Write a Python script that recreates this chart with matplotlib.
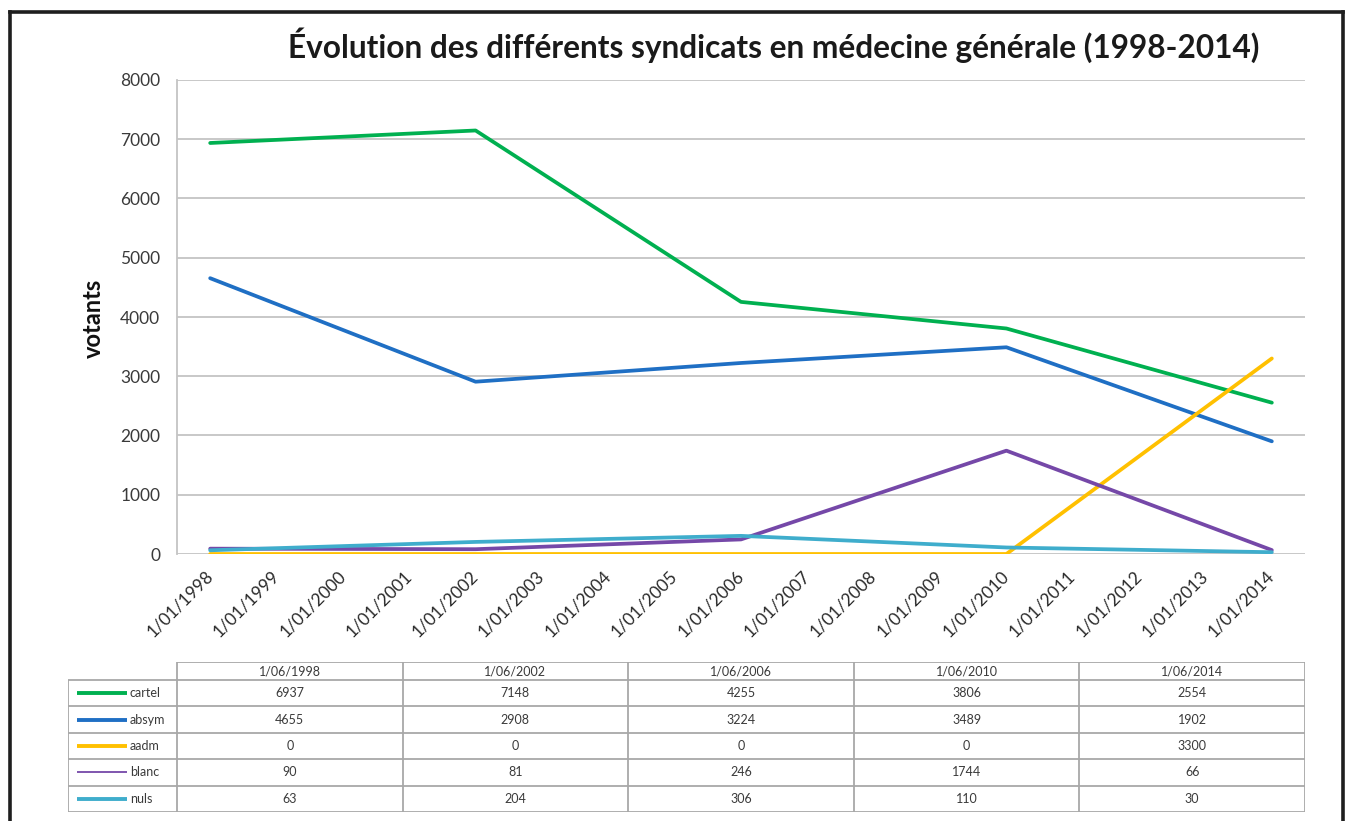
import matplotlib
matplotlib.use("Agg")
import matplotlib.pyplot as plt
import numpy as np

plt.rcParams['font.family'] = ['Lato', 'DejaVu Sans']

# ---------------- data ----------------
title = "Évolution des différents syndicats en médecine générale (1998-2014)"
ylabel = "votants"
dates = ["1/06/1998", "1/06/2002", "1/06/2006", "1/06/2010", "1/06/2014"]
years = [1998, 2002, 2006, 2010, 2014]
tick_years = list(range(1998, 2015))
tick_labels = ["1/01/%d" % y for y in tick_years]
series_names = ["cartel", "absym", "aadm", "blanc", "nuls"]
cartel = [6937, 7148, 4255, 3806, 2554]
absym = [4655, 2908, 3224, 3489, 1902]
aadm = [0, 0, 0, 0, 3300]
blanc = [90, 81, 246, 1744, 66]
nuls = [63, 204, 306, 110, 30]
series_values = [cartel, absym, aadm, blanc, nuls]
colors = ["#00b050", "#1f6fc4", "#ffc000", "#7548a8", "#3fadcc"]
yticks = list(range(0, 8001, 1000))

# ---------------- figure ----------------
W, H = 1347, 821
fig = plt.figure(figsize=(W / 100, H / 100), dpi=100)

def fx(x):
    return x / W

def fy(y):
    return 1 - y / H

# outer black frame (open bottom)
frame_kw = dict(color="#1e1e1e", lw=2.6, transform=fig.transFigure, solid_capstyle="projecting")
fig.add_artist(plt.Line2D([fx(9.5), fx(1342.5)], [fy(12.5), fy(12.5)], **frame_kw))
fig.add_artist(plt.Line2D([fx(9.5), fx(9.5)], [fy(12.5), fy(821)], **frame_kw))
fig.add_artist(plt.Line2D([fx(1342.5), fx(1342.5)], [fy(12.5), fy(821)], **frame_kw))

# main axes
L, R, T, B = 177, 1305, 80, 554
ax = fig.add_axes([fx(L), fy(B), fx(R - L), (B - T) / H])
for name, vals, c in zip(series_names, series_values, colors):
    ax.plot(years, vals, color=c, lw=2.7, solid_capstyle="round", solid_joinstyle="round", zorder=3)

ax.set_xlim(1997.5, 2014.5)
ax.set_ylim(0, 8000)
ax.set_yticks(yticks)
ax.set_yticklabels([str(v) for v in yticks], fontsize=12.5, color="#3a3a3a")
ax.set_xticks(tick_years)
ax.set_xticklabels(tick_labels, fontsize=12.5, color="#2a2a2a", rotation=45,
                   ha="right", va="center", rotation_mode="anchor")
ax.tick_params(axis="y", length=0, pad=12)
ax.tick_params(axis="x", length=0, pad=14)
ax.grid(axis="y", color="#c4c4c4", lw=1.3)
ax.set_axisbelow(True)
for s in ["top", "right", "bottom"]:
    ax.spines[s].set_visible(False)
ax.spines["left"].set_color("#c4c4c4")
ax.spines["left"].set_linewidth(1.3)

fig.text(fx(774), fy(45), title, ha="center", va="center", fontsize=22.8,
         fontweight="bold", color="#1a1a1a")
fig.text(fx(93), fy(318), ylabel, ha="center", va="center", rotation=90,
         fontsize=17, fontweight="bold", color="#111111")

# ---------------- data table ----------------
TL, TT, TB = 68, 662, 812
tax = fig.add_axes([fx(TL), fy(TB), fx(R - TL), (TB - TT) / H])
tax.set_xlim(TL, R)
tax.set_ylim(TB, TT)
tax.axis("off")

col_edges = np.linspace(L, R, len(dates) + 1)
hdr_bottom = 680
row_edges = np.linspace(hdr_bottom, TB, len(series_names) + 1)
gc = "#a8a8a8"
glw = 1.3
# horizontal lines
tax.hlines(TT, L, R, color=gc, lw=glw)
for yy in row_edges:
    tax.hlines(yy, TL, R, color=gc, lw=glw)
# vertical lines
tax.vlines(TL, hdr_bottom, TB, color=gc, lw=glw)
for xx in col_edges:
    tax.vlines(xx, TT, TB, color=gc, lw=glw)

txt_c = "#3a3a3a"
for j, d in enumerate(dates):
    tax.text((col_edges[j] + col_edges[j + 1]) / 2, (TT + hdr_bottom) / 2, d,
             ha="center", va="center", fontsize=9, color=txt_c)
for i, (name, vals, c) in enumerate(zip(series_names, series_values, colors)):
    yc = (row_edges[i] + row_edges[i + 1]) / 2
    lw = 1.3 if name == "blanc" else 2.8
    tax.plot([77, 127], [yc, yc], color=c, lw=lw, solid_capstyle="butt")
    tax.text(130, yc, name, ha="left", va="center", fontsize=9, color=txt_c)
    for j, v in enumerate(vals):
        tax.text((col_edges[j] + col_edges[j + 1]) / 2, yc, str(v),
                 ha="center", va="center", fontsize=9, color=txt_c)

fig.savefig("out.png", dpi=100, facecolor="white")
